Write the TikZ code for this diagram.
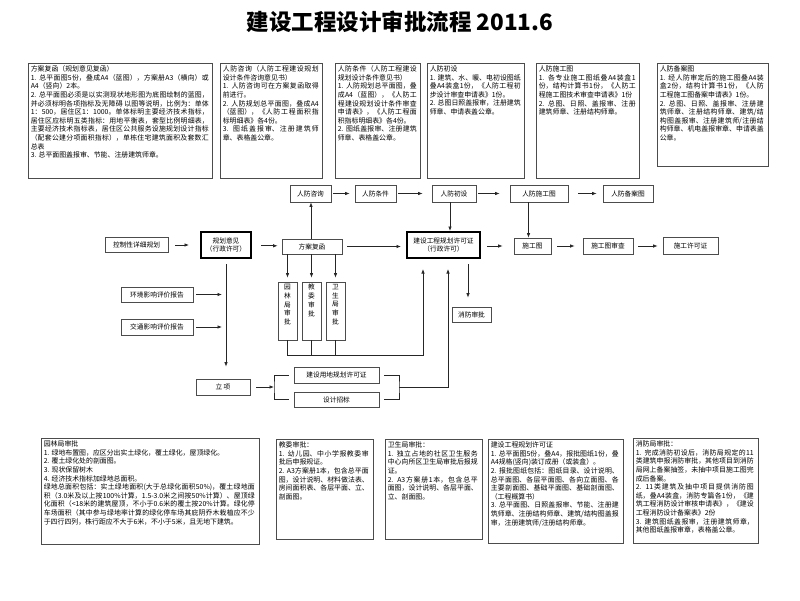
\documentclass[tikz,border=0pt]{standalone}
\usepackage{fontspec}
\setmainfont{Noto Sans CJK SC}
\XeTeXlinebreaklocale "zh"
\XeTeXlinebreakskip=0pt plus 1pt
\usetikzlibrary{arrows.meta,calc}
\begin{document}
\begin{tikzpicture}[x=1pt,y=-1pt,
  info/.style={draw=black!70, line width=0.8pt, inner sep=0pt},
  infotext/.style={anchor=north west, inner sep=0pt, align=justify, font=\fontsize{6.9}{8.6}\selectfont},
  box/.style={draw=black!70, line width=0.8pt, inner sep=0pt, align=center, font=\fontsize{6.7}{8}\selectfont},
  heavybox/.style={draw=black, line width=2pt, inner sep=0pt, align=center, font=\fontsize{6.7}{8}\selectfont},
  vtext/.style={anchor=north, inner sep=0pt, align=center, font=\fontsize{6.7}{8.7}\selectfont},
  arr/.style={draw=black!85, line width=0.7pt, -{Latex[length=4.5pt,width=3.5pt]}},
  ln/.style={draw=black!85, line width=0.7pt}]
\useasboundingbox (0,0) rectangle (800,600);
\fill[white] (0,0) rectangle (800,600);

% title
\node[font=\bfseries\fontsize{22.5}{24}\selectfont, inner sep=0pt] (title) at (400,22) {建设工程设计审批流程 2011.6};

% top info boxes
\node[info, minimum width=184, minimum height=115] (t1) at (120,120.5) {};
\node[infotext, text width=178] (t1x) at ($(t1.north west)+(3,3)$) {方案复函（规划意见复函）\\1. 总平面图5份，叠成A4（蓝图），方案册A3（横向）或A4（竖向）2本。\\2. 总平面图必须是以实测现状地形图为底图绘制的蓝图，并必须标明各项指标及无障碍 以图等说明，比例为：单体1：500，居住区1：1000。单体标明主要经济技术指标，居住区应标明五类指标：用地平衡表，套型比例明细表，主要经济技术指标表，居住区公共服务设施规划设计指标（配套公建分项面积指标），单栋住宅建筑面积及套数汇总表\\3. 总平面图盖报审、节能、注册建筑师章。};

\node[info, minimum width=102, minimum height=115] (t2) at (271,120.5) {};
\node[infotext, text width=96] (t2x) at ($(t2.north west)+(3,3)$) {人防咨询（人防工程建设规划设计条件咨询意见书）\\1. 人防咨询可在方案复函取得前进行。\\2. 人防规划总平面图，叠成A4（蓝图），《人防工程面积指标明细表》各4份。\\3. 图纸盖报审、注册建筑师章、表格盖公章。};

\node[info, minimum width=85, minimum height=115] (t3) at (377.5,120.5) {};
\node[infotext, text width=79] (t3x) at ($(t3.north west)+(3,3)$) {人防条件（人防工程建设规划设计条件意见书）\\1. 人防规划总平面图，叠成A4（蓝图），《人防工程建设规划设计条件审查申请表》，《人防工程面积指标明细表》各4份。\\2. 图纸盖报审、注册建筑师章、表格盖公章。};

\node[info, minimum width=97, minimum height=115] (t4) at (475.5,120.5) {};
\node[infotext, text width=91] (t4x) at ($(t4.north west)+(3,3)$) {人防初设\\1. 建筑、水、暖、电初设图纸叠A4装盒1份，《人防工程初步设计审查申请表》1份。\\2. 总图日照盖报审，注册建筑师章、申请表盖公章。};

\node[info, minimum width=103, minimum height=115] (t5) at (587.5,120.5) {};
\node[infotext, text width=97] (t5x) at ($(t5.north west)+(3,3)$) {人防施工图\\1. 各专业施工图纸叠A4装盒1份，结构计算书1份，《人防工程施工图技术审查申请表》1份\\2. 总图、日照、盖报审、注册建筑师章、注册结构师章。};

\node[info, minimum width=111, minimum height=103] (t6) at (712.5,114.5) {};
\node[infotext, text width=104] (t6x) at ($(t6.north west)+(3,3)$) {人防备案图\\1. 经人防审定后的施工图叠A4装盒2份，结构计算书1份，《人防工程施工图备案申请表》1份。\\2. 总图、日照、盖报审、注册建筑师章、注册结构师章、建筑/结构图盖报审、注册建筑师/注册结构师章、机电盖报审章、申请表盖公章。};

% flow row 1
\node[box, minimum width=41, minimum height=17] (rfzx) at (310.5,193.5) {人防咨询};
\node[box, minimum width=41, minimum height=17] (rftj) at (375.5,193.5) {人防条件};
\node[box, minimum width=44, minimum height=17] (rfcs) at (454,193.5) {人防初设};
\node[box, minimum width=58, minimum height=17] (rfsgt) at (539,193.5) {人防施工图};
\node[box, minimum width=50, minimum height=17] (rfba) at (628,193.5) {人防备案图};

% flow row 2
\node[box, minimum width=63, minimum height=15] (kzx) at (136.5,245) {控制性详细规划};
\node[heavybox, minimum width=50, minimum height=26] (ghyj) at (226,245) {规划意见\\（行政许可）};
\node[box, minimum width=60, minimum height=15] (fafh) at (312,246.5) {方案复函};
\node[heavybox, minimum width=73, minimum height=26] (jsxk) at (443.5,245) {建设工程规划许可证\\（行政许可）};
\node[box, minimum width=37, minimum height=16] (sgt) at (532.5,246) {施工图};
\node[box, minimum width=50, minimum height=16] (sgtsc) at (608,246) {施工图审查};
\node[box, minimum width=55, minimum height=17] (sgxk) at (690.5,245.5) {施工许可证};

% vertical approval boxes
\node[box, minimum width=19, minimum height=58] (yl) at (287.5,311) {};
\node[vtext] (ylx) at ($(yl.north)+(0,2.5)$) {园\\林\\局\\审\\批};
\node[box, minimum width=19, minimum height=58] (jw) at (311.5,311) {};
\node[vtext] (jwx) at ($(jw.north)+(0,2.5)$) {教\\委\\审\\批};
\node[box, minimum width=19, minimum height=58] (ws) at (335.5,311) {};
\node[vtext] (wsx) at ($(ws.north)+(0,2.5)$) {卫\\生\\局\\审\\批};

% left reports
\node[box, minimum width=72, minimum height=15] (hjyx) at (157,294.5) {环境影响评价报告};
\node[box, minimum width=72, minimum height=16] (jtyx) at (157,327) {交通影响评价报告};
\node[box, minimum width=54, minimum height=16] (lx) at (223,387) {立 项};
\node[box, minimum width=85, minimum height=16] (jsyd) at (336.5,375) {建设用地规划许可证};
\node[box, minimum width=85, minimum height=15] (sjzb) at (336.5,399.5) {设计招标};
\node[box, minimum width=39, minimum height=15] (xfsp) at (471.5,314.5) {消防审批};

% bottom info boxes
\node[info, minimum width=218, minimum height=106] (b1) at (150,491) {};
\node[infotext, text width=211] (b1x) at ($(b1.north west)+(3,3)$) {园林局审批\\1. 绿地布置图，应区分出实土绿化，覆土绿化，屋顶绿化。\\2. 覆土绿化处的剖面图。\\3. 现状保留树木\\4. 经济技术指标加绿地总面积。\\绿地总面积包括：实土绿地面积(大于总绿化面积50\%)，覆土绿地面积（3.0米及以上按100\%计算，1.5-3.0米之间按50\%计算）、屋顶绿化面积（<18米的建筑屋顶，不小于0.6米的覆土按20\%计算。绿化停车场面积（其中参与绿地率计算的绿化停车场其庇阴乔木栽植应不少于四行四列，株行距应不大于6米，不小于5米，且无地下建筑。};

\node[info, minimum width=97, minimum height=100] (b2) at (324.5,489) {};
\node[infotext, text width=90] (b2x) at ($(b2.north west)+(3,3)$) {教委审批：\\1. 幼儿园、中小学报教委审批后申报规证。\\2. A3方案册1本，包含总平面图，设计说明、材料做法表、房间面积表、各层平面、立、剖面图。};

\node[info, minimum width=97, minimum height=100] (b3) at (433.5,489) {};
\node[infotext, text width=90] (b3x) at ($(b3.north west)+(3,3)$) {卫生局审批：\\1. 独立占地的社区卫生服务中心向所区卫生局审批后报规证。\\2. A3方案册1本，包含总平面图，设计说明、各层平面、立、剖面图。};

\node[info, minimum width=135, minimum height=104] (b4) at (555.5,491) {};
\node[infotext, text width=128] (b4x) at ($(b4.north west)+(3,3)$) {建设工程规划许可证\\1. 总平面图5份，叠A4，报批图纸1份，叠A4规格(竖向)装订成册（或装盒）。\\2. 报批图纸包括：图纸目录、设计说明、总平面图、各层平面图、各向立面图、各主要剖面图、基础平面图、基础剖面图、（工程概算书）\\3. 总平面图、日照盖报审、节能、注册建筑师章、注册结构师章、建筑/结构图盖报审，注册建筑师/注册结构师章。};

\node[info, minimum width=125, minimum height=105] (b5) at (695.5,490.5) {};
\node[infotext, text width=118] (b5x) at ($(b5.north west)+(3,3)$) {消防局审批：\\1. 完成消防初设后，消防局规定的11类建筑申报消防审批，其他项目到消防局网上备案抽签，未抽中项目施工图完成后备案。\\2. 11类建筑及抽中项目提供消防图纸，叠A4装盒，消防专篇各1份，《建筑工程消防设计审核申请表》，《建设工程消防设计备案表》2份\\3. 建筑图纸盖报审，注册建筑师章，其他图纸盖报审章，表格盖公章。};

% connectors row 1
\draw[arr, shorten <=2, shorten >=5] (rfzx.east) -- (rftj.west);
\draw[arr, shorten <=2, shorten >=9] (rftj.east) -- (rfcs.west);
\draw[arr, shorten <=2, shorten >=10] (rfcs.east) -- (rfsgt.west);
\draw[arr, shorten <=10, shorten >=6] (rfsgt.east) -- (rfba.west);

% connectors row 2
\draw[arr, shorten <=7, shorten >=11] (kzx.east) -- (kzx.east -| ghyj.west);
\draw[arr, shorten <=9, shorten >=4] ([yshift=-0.8pt]ghyj.east) -- ([yshift=-0.8pt]ghyj.east -| fafh.west);
\draw[arr, shorten <=5, shorten >=5] (fafh.east) -- (fafh.east -| jsxk.west);
\draw[arr, shorten <=6, shorten >=11] ([yshift=-1pt]jsxk.east) -- ([yshift=-1pt]jsxk.east -| sgt.west);
\draw[arr, shorten <=6, shorten >=8] (sgt.east) -- (sgtsc.west);
\draw[arr, shorten <=5, shorten >=5] (sgtsc.east) -- (sgtsc.east -| sgxk.west);

% vertical connectors
\draw[arr] ([xshift=-1pt]fafh.north) -- ([xshift=-1pt]fafh.north |- rfzx.south);
\draw[arr] ([xshift=-4pt]rfcs.south) -- ([xshift=-4pt]rfcs.south |- jsxk.north);
\draw[arr] ([xshift=-4pt]sgt.north |- rfsgt.south) -- ([xshift=-4pt]sgt.north);
\draw[arr, shorten >=4] (yl.north |- fafh.south) -- (yl.north);
\draw[arr, shorten >=4] (jw.north |- fafh.south) -- (jw.north);
\draw[arr, shorten >=4] (ws.north |- fafh.south) -- (ws.north);

% bracket from approvals to permit
\coordinate (bk) at (423,355);
\draw[ln] (jw.south) -- (jw.south |- bk);
\draw[ln] (ws.south) -- (ws.south |- bk);
\draw[arr, shorten >=10] (yl.south) |- (bk) -- (bk |- jsxk.south);

% planning line down to project approval
\draw[arr, shorten <=5, shorten >=12] (ghyj.south) -- (ghyj.south |- lx.north);
\draw[arr, shorten <=3, shorten >=4] (hjyx.east) -- (hjyx.east -| ghyj.south);
\draw[arr, shorten <=3, shorten >=4] (jtyx.east) -- (jtyx.east -| ghyj.south);

% project approval to land permit / design tender
\coordinate (lb) at (274,387);
\coordinate (rb) at (399,387);
\draw[arr, shorten <=6] (lx.east) -- (lb);
\draw[ln] ([xshift=-5pt]jsyd.west) -| (lb) |- ([xshift=-5pt]sjzb.west);
\draw[ln] ([xshift=5pt]jsyd.east) -| (rb) |- ([xshift=5pt]sjzb.east);
\draw[arr, shorten >=10] (rb) -| ([xshift=4.5pt]jsxk.south);

% permit to fire approval
\draw[arr, shorten <=5, shorten >=9] ([xshift=24.5pt]jsxk.south) -- ([xshift=24.5pt]jsxk.south |- xfsp.north);
\end{tikzpicture}
\end{document}
